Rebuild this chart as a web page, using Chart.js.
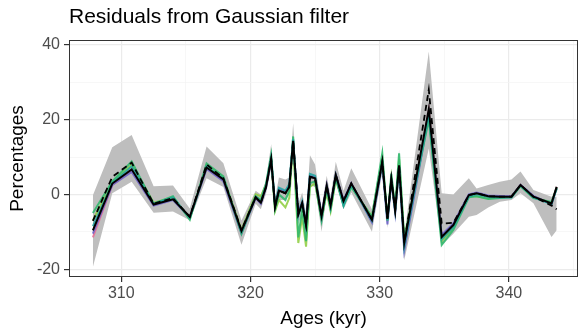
<!DOCTYPE html>
<html><head><meta charset="utf-8">
<script src="https://cdn.jsdelivr.net/npm/chart.js@4.4.1/dist/chart.umd.min.js"></script>
<style>html,body{margin:0;padding:0;background:#fff}</style>
</head><body>
<canvas id="c" width="581" height="334"></canvas>
<script>
const ages = [307.8, 309.3, 310.8, 312.5, 314.0, 315.3, 316.6, 317.9, 319.3, 320.4, 320.8, 321.2, 321.6, 321.9, 322.2, 322.7, 323.0, 323.3, 323.7, 324.0, 324.3, 324.6, 325.0, 325.5, 325.9, 326.2, 326.6, 327.2, 327.8, 329.4, 330.2, 330.6, 330.9, 331.2, 331.5, 331.9, 333.8, 334.8, 335.7, 336.9, 337.5, 338.4, 339.3, 340.2, 340.9, 341.9, 343.3, 343.7];
const bandLower = [-19.4, 0.3, 3.4, -4.9, -4.6, -6.9, 4.3, 2.0, -13.5, -2.5, -4.0, 0.2, 7.0, -5.0, -1.5, -1.5, 0.0, 12.0, -8.0, -5.0, -11.0, 2.5, 2.0, -10.0, 0.0, -5.5, 3.0, -4.0, 0.5, -10.0, 6.0, -9.0, 1.5, -6.5, 5.0, -17.6, 12.3, -13.6, -10.5, -6.0, -5.5, -3.5, -2.0, -1.5, 0.3, -2.4, -11.4, -9.6];
const bandUpper = [-0.2, 12.6, 15.9, 2.2, 2.4, -3.8, 12.8, 8.3, -7.0, 1.0, 0.0, 3.8, 13.5, -1.0, 4.5, 4.0, 4.5, 19.0, -2.5, 0.5, -5.0, 10.5, 8.0, -3.5, 5.0, -0.5, 8.7, 1.0, 7.0, -4.0, 11.0, -4.5, 7.0, -2.0, 12.0, -11.0, 38.2, 0.3, 0.0, 4.3, 1.6, 2.5, 3.4, 4.0, 6.1, 1.2, -0.6, -0.6];
const seriesGreen = [-5.0, 3.5, 8.8, -2.5, -0.5, -6.8, 8.3, 4.8, -10.5, -0.5, -1.5, 2.8, 10.5, -4.0, 0.0, -1.5, 1.0, 15.5, -11.5, -4.0, -12.5, 3.0, 3.5, -7.0, 1.5, -4.0, 4.5, -3.0, 2.0, -6.0, 11.0, -7.0, 5.5, -3.5, 11.0, -12.0, 20.0, -13.5, -9.5, -0.8, -0.5, -1.2, -1.0, -0.8, 2.2, -1.0, -2.0, 1.5];
const seriesLime = [-7.0, 3.2, 8.0, -2.2, -0.8, -6.5, 7.8, 4.5, -9.5, 0.0, -0.5, 2.5, 9.0, -4.5, -1.5, -3.5, -1.0, 13.5, -13.0, -6.0, -14.0, 2.0, 3.0, -6.5, 0.5, -4.5, 4.0, -2.5, 2.0, -6.0, 9.5, -6.5, 4.5, -3.8, 9.5, -12.0, 21.0, -12.5, -9.0, -0.5, -0.5, -1.0, -0.8, -0.6, 2.3, -0.8, -2.2, 1.8];
const seriesTeal = [-8.5, 3.0, 7.5, -2.5, -0.8, -6.3, 7.5, 4.2, -10.0, -0.6, -2.0, 2.3, 9.8, -2.8, 1.8, 1.0, 2.8, 14.8, -5.8, -2.0, -8.5, 5.5, 5.0, -6.2, 2.0, -3.5, 5.0, -3.0, 2.5, -7.0, 8.5, -6.8, 4.0, -4.5, 7.5, -14.0, 21.5, -12.0, -8.8, -0.6, 0.0, -0.7, -0.8, -0.8, 2.4, -0.8, -2.6, 1.8];
const seriesBlue = [-10.5, 2.5, 6.0, -3.0, -1.5, -6.2, 6.8, 3.5, -10.5, -1.0, -2.5, 1.8, 9.0, -3.0, 1.5, 0.8, 2.3, 14.0, -4.5, -2.0, -7.5, 5.0, 4.6, -5.5, 2.5, -2.8, 5.3, -1.5, 3.0, -7.5, 8.0, -8.0, 3.5, -5.0, 7.0, -15.0, 21.0, -10.8, -7.8, 0.0, 0.5, -0.3, -0.4, -0.5, 2.5, -0.4, -2.6, 1.5];
const seriesPink = [-11.5, 2.5, 6.5, -2.8, -1.2, -6.1, 7.0, 3.8, -9.9, -0.9, -2.3, 2.0, 9.3, -3.2, 1.1, 0.4, 2.0, 14.2, -5.4, -2.3, -8.1, 4.8, 4.4, -5.7, 2.4, -3.1, 5.1, -1.9, 2.8, -6.9, 8.6, -6.6, 3.9, -4.3, 7.7, -13.2, 22.5, -11.2, -8.1, -0.2, 0.3, -0.5, -0.6, -0.6, 2.5, -0.6, -2.4, 2.0];
const seriesBlack = [-9.6, 2.9, 6.7, -2.7, -1.3, -6.0, 7.2, 4.0, -9.8, -0.8, -2.2, 2.0, 9.4, -3.3, 1.0, 0.3, 2.0, 14.3, -5.3, -2.4, -8.2, 4.7, 4.3, -5.8, 2.3, -3.0, 5.2, -1.8, 2.9, -6.8, 8.7, -6.5, 4.0, -4.2, 7.8, -13.0, 22.8, -11.4, -8.2, -0.2, 0.3, -0.5, -0.6, -0.6, 2.5, -0.6, -2.4, 2.0];
const seriesDashed = [-7.1, 4.7, 8.5, -2.5, -1.0, -6.0, 8.0, 4.3, -9.5, -0.8, -2.2, 2.0, 9.4, -3.3, 1.0, 0.3, 2.0, 14.3, -5.3, -2.4, -8.2, 4.7, 4.3, -5.8, 2.3, -3.0, 5.2, -1.8, 2.9, -6.8, 8.7, -6.5, 4.0, -4.2, 7.8, -13.0, 28.0, -7.8, -7.6, -0.2, 0.3, -0.5, -0.6, -0.6, 2.5, -0.6, -3.0, -4.0];
const xTicks = [310, 315, 320, 325, 330, 335, 340, 345];
const xLabels = [310, 320, 330, 340];
const yTicks = [-20, -10, 0, 10, 20, 30, 40];
const yLabels = [-20, 0, 20, 40];

const pts = arr => ages.map((a, i) => ({x: a, y: arr[i]}));
const FONT = "'Liberation Sans', Arial, sans-serif";
const line = (arr, color, order, extra) => Object.assign({
  data: pts(arr), borderColor: color, borderWidth: 2, pointRadius: 0, fill: false, tension: 0, order: order
}, extra || {});

const panelBorder = {
  id: 'panelBorder',
  afterDatasetsDraw(chart) {
    const a = chart.chartArea, ctx = chart.ctx;
    ctx.save();
    ctx.strokeStyle = '#333333';
    ctx.lineWidth = 1;
    ctx.strokeRect(Math.round(a.left) + 0.5, Math.round(a.top) + 0.5, Math.round(a.right - a.left) - 1, Math.round(a.bottom - a.top) - 1);
    ctx.restore();
  }
};

new Chart(document.getElementById('c'), {
  type: 'line',
  data: {
    datasets: [
      line(bandUpper, 'rgba(0,0,0,0)', 20, {borderWidth: 0, fill: '+1', backgroundColor: '#bebebe'}),
      line(bandLower, 'rgba(0,0,0,0)', 21, {borderWidth: 0}),
      line(seriesPink, 'rgba(232,110,150,0.85)', 15),
      line(seriesLime, 'rgba(140,205,60,0.85)', 14),
      line(seriesBlue, 'rgba(105,95,200,0.85)', 13),
      line(seriesGreen, 'rgba(50,185,110,0.9)', 12),
      line(seriesTeal, 'rgba(30,165,160,0.85)', 11),
      line(seriesBlack, '#000000', 2),
      line(seriesDashed, '#000000', 1, {borderDash: [6, 4], borderWidth: 1.8})
    ]
  },
  options: {
    responsive: false,
    animation: false,
    layout: {padding: {left: 0, right: 3, top: 0, bottom: 0}},
    plugins: {
      legend: {display: false},
      tooltip: {enabled: false},
      title: {
        display: true, text: 'Residuals from Gaussian filter', align: 'start', fullSize: false,
        color: '#000', font: {family: FONT, size: 21, weight: 'normal', lineHeight: 1.2},
        padding: {top: 5, bottom: 9.8}
      }
    },
    scales: {
      x: {
        type: 'linear', min: 305.95, max: 345.35,
        afterBuildTicks: s => { s.ticks = xTicks.map(v => ({value: v})); },
        afterFit: s => { s.height = 57; },
        ticks: {autoSkip: false, maxRotation: 0, padding: 2, color: '#4d4d4d', font: {family: FONT, size: 16},
          callback: v => xLabels.includes(v) ? String(v) : ''},
        grid: {
          color: c => xLabels.includes(c.tick.value) ? '#ebebeb' : '#f4f4f4',
          lineWidth: c => xLabels.includes(c.tick.value) ? 1.2 : 0.7,
          tickColor: c => xLabels.includes(c.tick.value) ? '#333333' : 'rgba(0,0,0,0)',
          tickLength: 5, drawTicks: true
        },
        border: {display: false},
        title: {display: true, text: 'Ages (kyr)', color: '#000', font: {family: FONT, size: 19}, padding: {top: 1, bottom: 4}}
      },
      y: {
        type: 'linear', min: -22.1, max: 41.3,
        afterBuildTicks: s => { s.ticks = yTicks.map(v => ({value: v})); },
        afterFit: s => { s.width = 69; },
        ticks: {autoSkip: false, padding: 4, color: '#4d4d4d', font: {family: FONT, size: 16},
          callback: v => yLabels.includes(v) ? String(v) : ''},
        grid: {
          color: c => yLabels.includes(c.tick.value) ? '#ebebeb' : '#f4f4f4',
          lineWidth: c => yLabels.includes(c.tick.value) ? 1.2 : 0.7,
          tickColor: c => yLabels.includes(c.tick.value) ? '#333333' : 'rgba(0,0,0,0)',
          tickLength: 5, drawTicks: true
        },
        border: {display: false},
        title: {display: true, text: 'Percentages', color: '#000', font: {family: FONT, size: 19}, padding: {top: 6, bottom: 1}}
      }
    }
  },
  plugins: [panelBorder]
});
</script>
</body></html>
